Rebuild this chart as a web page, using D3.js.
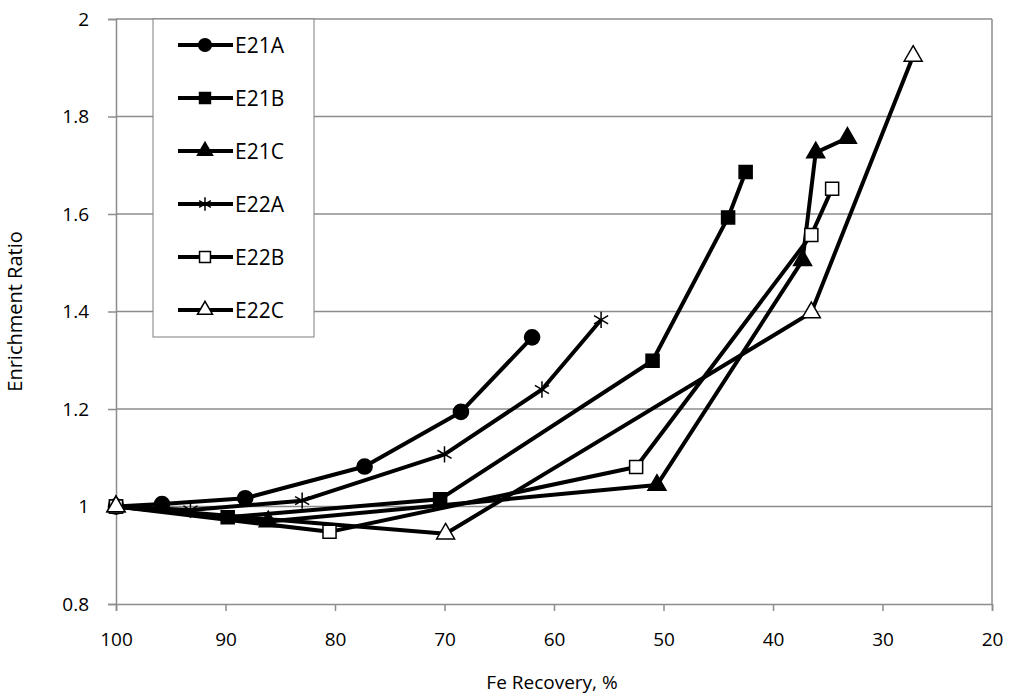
<!DOCTYPE html>
<html>
<head>
<meta charset="utf-8">
<script src="https://cdn.jsdelivr.net/npm/d3@7"></script>
<style>
  body { margin: 0; background: #fff; }
  svg text { font-family: "Open Sans", "Liberation Sans", sans-serif; }
</style>
</head>
<body>
<script>
var seriesNames = ['E21A', 'E21B', 'E21C', 'E22A', 'E22B', 'E22C'];
var markerKinds = ['circle', 'square', 'triangle', 'star', 'square', 'triangle'];
var markerFill = ['#000', '#000', '#000', '#000', '#fff', '#fff'];

var e21aX = [100, 95.8, 88.2, 77.3, 68.5, 62.0];
var e21aY = [1.0, 1.005, 1.017, 1.082, 1.194, 1.347];
var e21bX = [100, 89.8, 70.4, 51.0, 44.1, 42.5];
var e21bY = [1.0, 0.978, 1.015, 1.299, 1.593, 1.686];
var e21cX = [100, 86.1, 50.6, 37.3, 36.1, 33.2];
var e21cY = [1.0, 0.969, 1.044, 1.505, 1.726, 1.756];
var e22aX = [100, 93.2, 83.0, 70.0, 61.1, 55.7];
var e22aY = [1.0, 0.993, 1.012, 1.107, 1.240, 1.383];
var e22bX = [100, 80.5, 52.5, 36.5, 34.6];
var e22bY = [1.0, 0.948, 1.081, 1.557, 1.652];
var e22cX = [100, 69.9, 36.5, 27.2];
var e22cY = [1.0, 0.944, 1.398, 1.924];

var xTicks = [100, 90, 80, 70, 60, 50, 40, 30, 20];
var yTicks = [0.8, 1, 1.2, 1.4, 1.6, 1.8, 2];

var allX = [e21aX, e21bX, e21cX, e22aX, e22bX, e22cX];
var allY = [e21aY, e21bY, e21cY, e22aY, e22bY, e22cY];

var width = 1009, height = 695;
var margins = {left: 116, right: 17, top: 19, bottom: 91};
var w = width - margins.left - margins.right,
    h = height - margins.top - margins.bottom;

var svg = d3.select('body')
    .append('svg')
    .attr('width', width)
    .attr('height', height);

var g = svg.append('g')
    .attr('transform', 'translate(' + margins.left + ',' + margins.top + ')');

var xScale = d3.scaleLinear().range([0, w]).domain([100, 20]);
var yScale = d3.scaleLinear().range([h, 0]).domain([0.8, 2]);

// gridlines
g.append('g')
  .selectAll('line')
  .data(yTicks.slice(1))
  .enter()
  .append('line')
  .attr('x1', 0).attr('x2', w)
  .attr('y1', function(d) {return yScale(d);})
  .attr('y2', function(d) {return yScale(d);})
  .attr('stroke', '#8c8c8c')
  .attr('stroke-width', 1.5);

// right border
g.append('line')
  .attr('x1', w).attr('x2', w).attr('y1', 0).attr('y2', h)
  .attr('stroke', '#8c8c8c').attr('stroke-width', 1.5);

var xAxis = d3.axisBottom(xScale).tickValues(xTicks).tickSize(7).tickPadding(22);
var yAxis = d3.axisLeft(yScale).tickValues(yTicks).tickSize(8).tickPadding(19)
  .tickFormat(function(d) {return d3.format('')(d);});

var gx = g.append('g')
  .attr('transform', 'translate(0,' + h + ')')
  .call(xAxis);
var gy = g.append('g').call(yAxis);

[gx, gy].forEach(function(ax) {
  ax.attr('font-size', 19).attr('font-family', null);
  ax.select('.domain').attr('stroke', '#8c8c8c').attr('stroke-width', 1.5);
  ax.selectAll('.tick line').attr('stroke', '#8c8c8c').attr('stroke-width', 1.5);
  ax.selectAll('.tick text').attr('fill', '#000');
});

svg.append('text')
  .text('Fe Recovery, %')
  .attr('x', margins.left + w / 2 - 2)
  .attr('y', 689)
  .attr('text-anchor', 'middle')
  .attr('font-size', 19);

svg.append('text')
  .text('Enrichment Ratio')
  .attr('transform', 'translate(22,' + (margins.top + h / 2) + ') rotate(-90)')
  .attr('text-anchor', 'middle')
  .attr('font-size', 20);

// asterisk symbol (6-arm star drawn as lines)
var symbolAsterisk = {
  draw: function(ctx, size) {
    var r = Math.sqrt(size) / 1.6;
    [90, 30, -30].forEach(function(a) {
      var rad = a * Math.PI / 180;
      ctx.moveTo(-r * Math.cos(rad), -r * Math.sin(rad));
      ctx.lineTo(r * Math.cos(rad), r * Math.sin(rad));
    });
  }
};

function markerPath(kind, size) {
  var sym = {circle: d3.symbolCircle, square: d3.symbolSquare,
             triangle: d3.symbolTriangle, star: symbolAsterisk}[kind];
  return d3.symbol().type(sym).size(size)();
}
function markerSize(kind) {
  return kind === 'circle' ? 180 : kind === 'triangle' ? 140 : kind === 'star' ? 170 : 170;
}

var line = d3.line()
  .x(function(d) {return xScale(d[0]);})
  .y(function(d) {return yScale(d[1]);});

var plot = g.append('g');
seriesNames.forEach(function(name, i) {
  var pts = allX[i].map(function(x, j) {return [x, allY[i][j]];});
  plot.append('path')
    .datum(pts)
    .attr('d', line)
    .attr('fill', 'none')
    .attr('stroke', '#000')
    .attr('stroke-width', 4)
    .attr('stroke-linejoin', 'round');
});

seriesNames.forEach(function(name, i) {
  var pts = allX[i].map(function(x, j) {return [x, allY[i][j]];});
  var kind = markerKinds[i];
  plot.selectAll('.m' + i)
    .data(pts)
    .enter()
    .append('path')
    .attr('class', 'm' + i)
    .attr('transform', function(d) {return 'translate(' + xScale(d[0]) + ',' + yScale(d[1]) + ')';})
    .attr('d', markerPath(kind, markerSize(kind)))
    .attr('fill', kind === 'star' ? 'none' : markerFill[i])
    .attr('stroke', '#000')
    .attr('stroke-width', 1.5);
});

// legend
var legend = svg.append('g').attr('transform', 'translate(153,19)');
legend.append('rect')
  .attr('width', 161).attr('height', 318)
  .attr('fill', '#fff')
  .attr('stroke', '#7f7f7f')
  .attr('stroke-width', 1);

seriesNames.forEach(function(name, i) {
  var y = 26 + i * 53;
  var kind = markerKinds[i];
  legend.append('line')
    .attr('x1', 25).attr('x2', 80).attr('y1', y).attr('y2', y)
    .attr('stroke', '#000').attr('stroke-width', 4);
  legend.append('path')
    .attr('transform', 'translate(52,' + y + ')')
    .attr('d', markerPath(kind, markerSize(kind) * 0.7))
    .attr('fill', kind === 'star' ? 'none' : markerFill[i])
    .attr('stroke', '#000')
    .attr('stroke-width', 1.5);
  legend.append('text')
    .text(name)
    .attr('x', 82).attr('y', y + 8)
    .attr('font-size', 21);
});
</script>
</body>
</html>
